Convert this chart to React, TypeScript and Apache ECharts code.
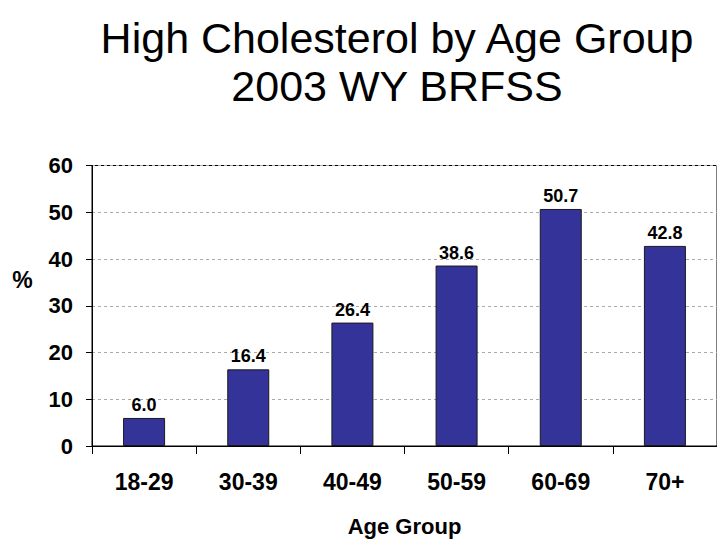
import React, { useEffect, useRef } from "react";
import * as echarts from "echarts";

const categories = ["18-29", "30-39", "40-49", "50-59", "60-69", "70+"];
const values = [6.0, 16.4, 26.4, 38.6, 50.7, 42.8];
const titleLines = ["High Cholesterol by Age Group", "2003 WY BRFSS"];
const yAxisName = "%";
const xAxisName = "Age Group";

export default function App() {
  const ref = useRef<HTMLDivElement>(null);
  useEffect(() => {
    if (!ref.current) return;
    const chart = echarts.init(ref.current, null, { renderer: "svg" });
    const font = "'Liberation Sans', Arial, sans-serif";
    chart.setOption({
      animation: false,
      backgroundColor: "#ffffff",
      title: {
        text: titleLines.join("\n"),
        left: 392,
        top: 9,
        textAlign: "center",
        textStyle: {
          fontFamily: font,
          fontSize: 43,
          fontWeight: "normal",
          color: "#000",
          lineHeight: 48,
        },
      },
      graphic: [
        {
          type: "text",
          x: 22.5,
          y: 280,
          style: {
            text: yAxisName,
            fontFamily: font,
            fontSize: 23,
            fontWeight: "bold",
            fill: "#000",
            align: "center",
            verticalAlign: "middle",
          },
        },
      ],
      grid: {
        left: 92,
        right: -8,
        top: 165.5,
        bottom: 98,
        show: true,
        borderColor: "#000",
        borderWidth: 1,
        backgroundColor: "transparent",
      },
      xAxis: {
        type: "category",
        data: categories,
        name: xAxisName,
        nameLocation: "middle",
        nameGap: 69,
        nameTextStyle: { fontFamily: font, fontSize: 22, fontWeight: "bold", color: "#000" },
        axisLine: { lineStyle: { color: "#000", width: 1 } },
        axisTick: { show: true, length: 8, alignWithLabel: false, lineStyle: { color: "#000" } },
        axisLabel: { fontFamily: font, fontSize: 23, fontWeight: "bold", color: "#000", margin: 24 },
        splitLine: { show: false },
      },
      yAxis: {
        type: "value",
        min: 0,
        max: 60,
        interval: 10,
        axisLine: { show: true, lineStyle: { color: "#000", width: 1 } },
        axisTick: { show: true, length: 6, lineStyle: { color: "#000" } },
        axisLabel: { fontFamily: font, fontSize: 22, fontWeight: "bold", color: "#000", margin: 19 },
        splitLine: { show: true, lineStyle: { color: "#aaaaaa", type: [3, 3], width: 1 } },
      },
      series: [
        {
          type: "bar",
          data: values,
          barWidth: 42,
          itemStyle: { color: "#333399", borderColor: "#1a1a1a", borderWidth: 1 },
          label: {
            show: true,
            position: "top",
            distance: 4,
            formatter: (p: any) => Number(p.value).toFixed(1),
            fontFamily: font,
            fontSize: 18,
            fontWeight: "bold",
            color: "#000",
          },
        },
      ],
    });
    return () => chart.dispose();
  }, []);
  return (
    <div
      ref={ref}
      style={{ position: "fixed", left: 0, top: 0, width: 717, height: 544, background: "#fff" }}
    />
  );
}
